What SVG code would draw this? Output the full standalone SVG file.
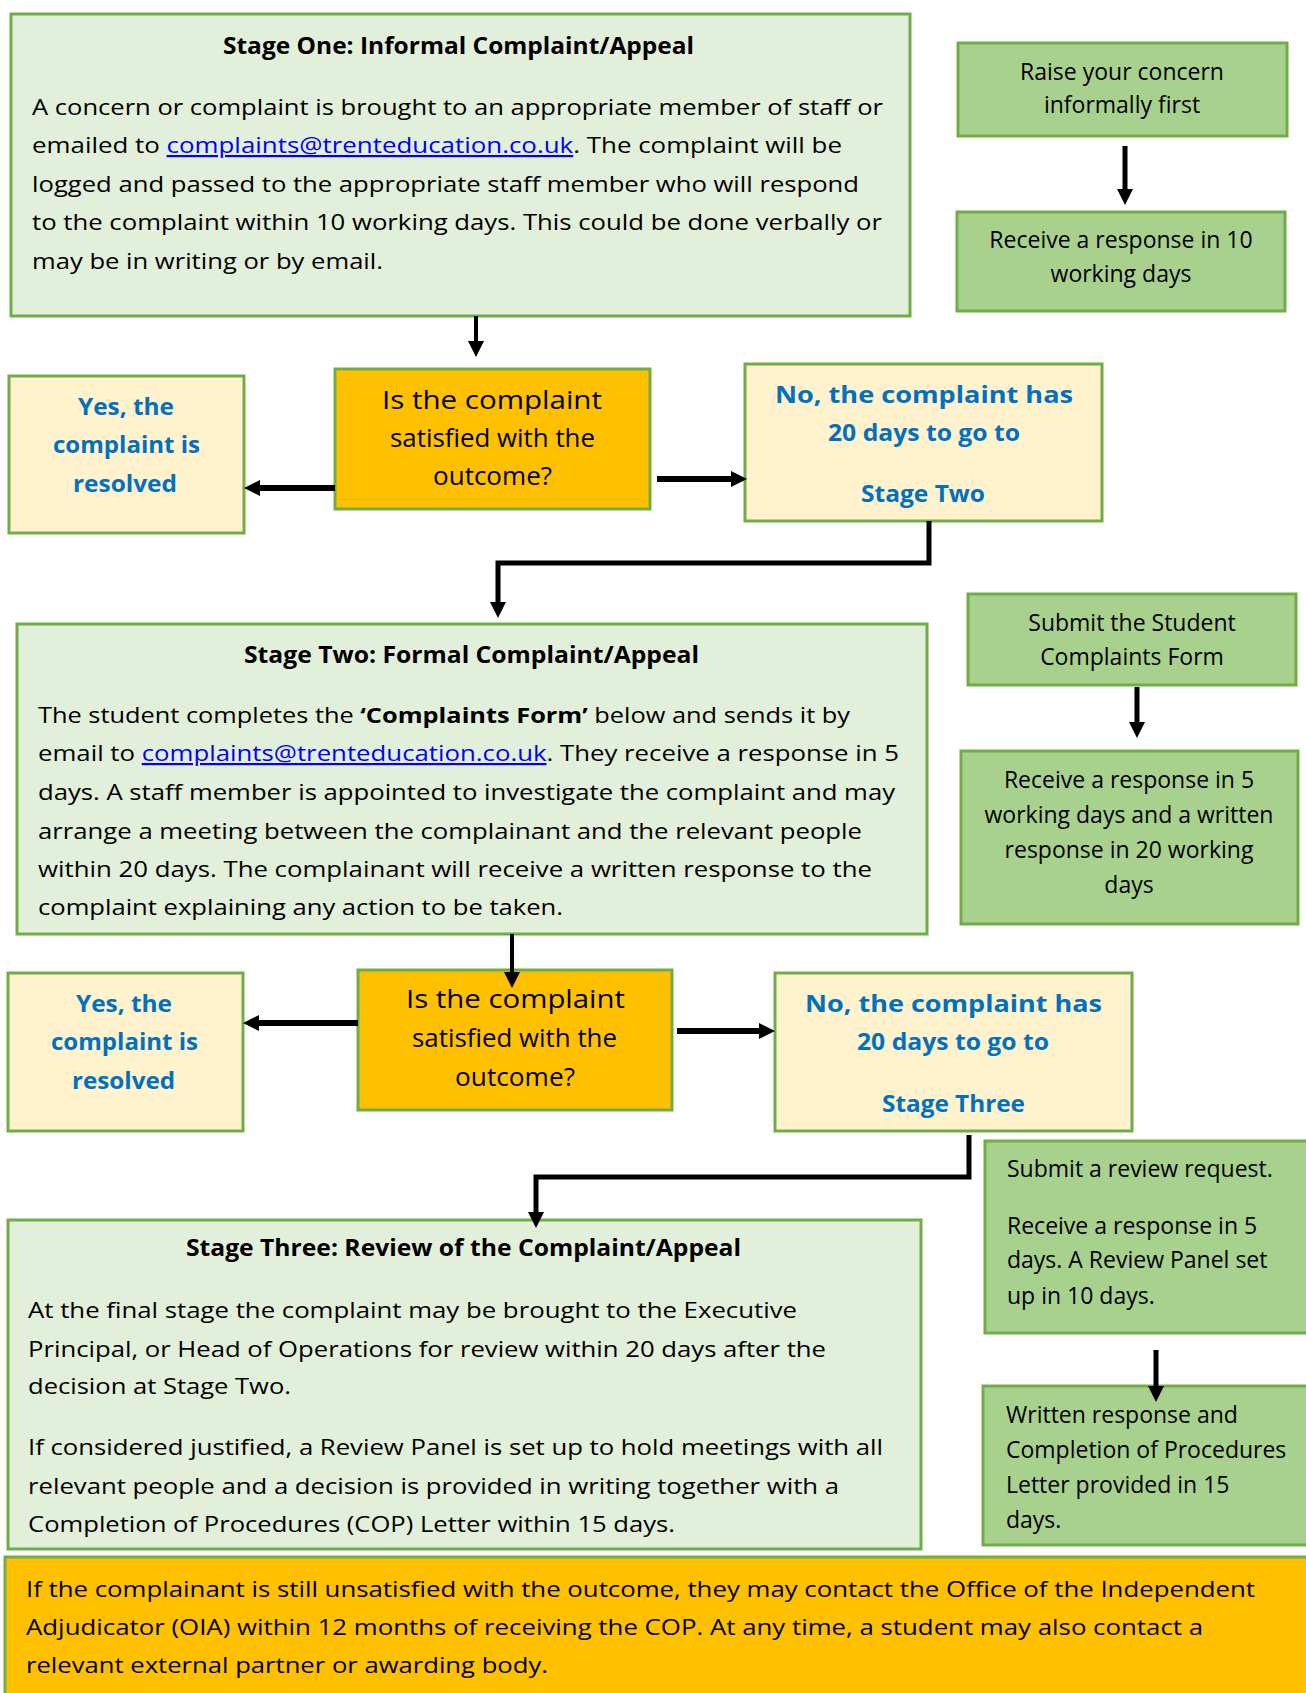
<svg xmlns="http://www.w3.org/2000/svg" width="1306" height="1693" viewBox="0 0 1306 1693">
<style>
text{font-family:"Open Sans","Liberation Sans",sans-serif;fill:#000}
.stage{fill:#E2EFDA;stroke:#70AD47;stroke-width:3}
.green{fill:#A9D18E;stroke:#70AD47;stroke-width:3}
.ask{fill:#FFC000;stroke:#70AD47;stroke-width:3}
.ans{fill:#FFF2CC;stroke:#70AD47;stroke-width:3}
.title{font-size:23px;font-weight:bold}
.body{font-size:22px}
.side{font-size:23px}
.q{font-size:25px}
.a{font-size:24px;font-weight:bold;fill:#0070C0}
.link{fill:#0000FF;text-decoration:underline}
.c{fill:none;stroke:#000;stroke-linejoin:miter}
</style>
<defs>
<marker id="ah" viewBox="0 0 16 16" refX="5" refY="8" markerWidth="16" markerHeight="16" markerUnits="userSpaceOnUse" orient="auto">
<path d="M0,0 L16,8 L0,16 z" fill="#000"/>
</marker>
</defs>

<g id="stage1">
<rect class="stage" x="11" y="14" width="899" height="302"/>
<text class="title" x="223" y="54" textLength="471" lengthAdjust="spacingAndGlyphs">Stage One: Informal Complaint/Appeal</text>
<text class="body" x="32" y="115" textLength="851" lengthAdjust="spacingAndGlyphs">A concern or complaint is brought to an appropriate member of staff or</text>
<text class="body" x="32" y="153" textLength="810" lengthAdjust="spacingAndGlyphs">emailed to <tspan class="link">complaints@trenteducation.co.uk</tspan>. The complaint will be</text>
<text class="body" x="32" y="192" textLength="827" lengthAdjust="spacingAndGlyphs">logged and passed to the appropriate staff member who will respond</text>
<text class="body" x="32" y="230" textLength="850" lengthAdjust="spacingAndGlyphs">to the complaint within 10 working days. This could be done verbally or</text>
<text class="body" x="32" y="269" textLength="351" lengthAdjust="spacingAndGlyphs">may be in writing or by email.</text>
</g>

<g id="raise">
<rect class="green" x="958" y="43" width="329" height="93"/>
<text class="side" x="1122" y="80" text-anchor="middle">Raise your concern</text>
<text class="side" x="1122" y="113" text-anchor="middle">informally first</text>
</g>

<g id="resp10">
<rect class="green" x="957" y="212" width="328" height="99"/>
<text class="side" x="1121" y="248" text-anchor="middle">Receive a response in 10</text>
<text class="side" x="1121" y="282" text-anchor="middle">working days</text>
</g>

<g id="yes1">
<rect class="ans" x="9" y="376" width="235" height="157"/>
<text class="a" x="78" y="415" textLength="96" lengthAdjust="spacingAndGlyphs">Yes, the</text>
<text class="a" x="53" y="453" textLength="147" lengthAdjust="spacingAndGlyphs">complaint is</text>
<text class="a" x="73" y="492" textLength="104" lengthAdjust="spacingAndGlyphs">resolved</text>
</g>

<g id="q1">
<rect class="ask" x="335" y="369" width="315" height="140"/>
<text class="q" x="382" y="409" textLength="220" lengthAdjust="spacingAndGlyphs">Is the complaint</text>
<text class="q" x="390" y="447" textLength="205" lengthAdjust="spacingAndGlyphs">satisfied with the</text>
<text class="q" x="433" y="485" textLength="119" lengthAdjust="spacingAndGlyphs">outcome?</text>
</g>

<g id="no1">
<rect class="ans" x="745" y="364" width="357" height="157"/>
<text class="a" x="775" y="403" textLength="298" lengthAdjust="spacingAndGlyphs">No, the complaint has</text>
<text class="a" x="828" y="441" textLength="192" lengthAdjust="spacingAndGlyphs">20 days to go to</text>
<text class="a" x="861" y="502" textLength="124" lengthAdjust="spacingAndGlyphs">Stage Two</text>
</g>

<g id="stage2">
<rect class="stage" x="17" y="624" width="910" height="310"/>
<text class="title" x="244" y="663" textLength="455" lengthAdjust="spacingAndGlyphs">Stage Two: Formal Complaint/Appeal</text>
<text class="body" x="38" y="723" textLength="812" lengthAdjust="spacingAndGlyphs">The student completes the <tspan font-weight="bold">‘Complaints Form’</tspan> below and sends it by</text>
<text class="body" x="38" y="761" textLength="861" lengthAdjust="spacingAndGlyphs">email to <tspan class="link">complaints@trenteducation.co.uk</tspan>. They receive a response in 5</text>
<text class="body" x="38" y="800" textLength="857" lengthAdjust="spacingAndGlyphs">days. A staff member is appointed to investigate the complaint and may</text>
<text class="body" x="38" y="839" textLength="824" lengthAdjust="spacingAndGlyphs">arrange a meeting between the complainant and the relevant people</text>
<text class="body" x="38" y="877" textLength="834" lengthAdjust="spacingAndGlyphs">within 20 days. The complainant will receive a written response to the</text>
<text class="body" x="38" y="915" textLength="525" lengthAdjust="spacingAndGlyphs">complaint explaining any action to be taken.</text>
</g>

<g id="submitform">
<rect class="green" x="968" y="594" width="328" height="91"/>
<text class="side" x="1132" y="631" text-anchor="middle">Submit the Student</text>
<text class="side" x="1132" y="665" text-anchor="middle">Complaints Form</text>
</g>

<g id="resp5">
<rect class="green" x="961" y="751" width="337" height="173"/>
<text class="side" x="1129" y="788" text-anchor="middle">Receive a response in 5</text>
<text class="side" x="1129" y="823" text-anchor="middle">working days and a written</text>
<text class="side" x="1129" y="858" text-anchor="middle">response in 20 working</text>
<text class="side" x="1129" y="893" text-anchor="middle">days</text>
</g>

<g id="yes2">
<rect class="ans" x="8" y="973" width="235" height="158"/>
<text class="a" x="76" y="1012" textLength="96" lengthAdjust="spacingAndGlyphs">Yes, the</text>
<text class="a" x="51" y="1050" textLength="147" lengthAdjust="spacingAndGlyphs">complaint is</text>
<text class="a" x="72" y="1089" textLength="103" lengthAdjust="spacingAndGlyphs">resolved</text>
</g>

<g id="q2">
<rect class="ask" x="358" y="970" width="314" height="140"/>
<text class="q" x="406" y="1008" textLength="219" lengthAdjust="spacingAndGlyphs">Is the complaint</text>
<text class="q" x="412" y="1047" textLength="205" lengthAdjust="spacingAndGlyphs">satisfied with the</text>
<text class="q" x="455" y="1086" textLength="120" lengthAdjust="spacingAndGlyphs">outcome?</text>
</g>

<g id="no2">
<rect class="ans" x="775" y="973" width="357" height="158"/>
<text class="a" x="805" y="1012" textLength="297" lengthAdjust="spacingAndGlyphs">No, the complaint has</text>
<text class="a" x="857" y="1050" textLength="192" lengthAdjust="spacingAndGlyphs">20 days to go to</text>
<text class="a" x="882" y="1112" textLength="143" lengthAdjust="spacingAndGlyphs">Stage Three</text>
</g>

<g id="stage3">
<rect class="stage" x="8" y="1220" width="913" height="329"/>
<text class="title" x="186" y="1256" textLength="555" lengthAdjust="spacingAndGlyphs">Stage Three: Review of the Complaint/Appeal</text>
<text class="body" x="28" y="1318" textLength="769" lengthAdjust="spacingAndGlyphs">At the final stage the complaint may be brought to the Executive</text>
<text class="body" x="28" y="1357" textLength="798" lengthAdjust="spacingAndGlyphs">Principal, or Head of Operations for review within 20 days after the</text>
<text class="body" x="28" y="1394" textLength="263" lengthAdjust="spacingAndGlyphs">decision at Stage Two.</text>
<text class="body" x="28" y="1455" textLength="855" lengthAdjust="spacingAndGlyphs">If considered justified, a Review Panel is set up to hold meetings with all</text>
<text class="body" x="28" y="1494" textLength="811" lengthAdjust="spacingAndGlyphs">relevant people and a decision is provided in writing together with a</text>
<text class="body" x="28" y="1532" textLength="647" lengthAdjust="spacingAndGlyphs">Completion of Procedures (COP) Letter within 15 days.</text>
</g>

<g id="review">
<rect class="green" x="985" y="1141" width="330" height="192"/>
<text class="side" x="1007" y="1177">Submit a review request.</text>
<text class="side" x="1007" y="1234">Receive a response in 5</text>
<text class="side" x="1007" y="1268">days. A Review Panel set</text>
<text class="side" x="1007" y="1304">up in 10 days.</text>
</g>

<g id="written">
<rect class="green" x="983" y="1386" width="332" height="159"/>
<text class="side" x="1006" y="1423">Written response and</text>
<text class="side" x="1006" y="1458">Completion of Procedures</text>
<text class="side" x="1006" y="1493">Letter provided in 15</text>
<text class="side" x="1006" y="1528">days.</text>
</g>

<g id="oia">
<rect class="ask" x="5" y="1557" width="1310" height="145"/>
<text class="body" x="26" y="1597" textLength="1229" lengthAdjust="spacingAndGlyphs">If the complainant is still unsatisfied with the outcome, they may contact the Office of the Independent</text>
<text class="body" x="26" y="1635" textLength="1177" lengthAdjust="spacingAndGlyphs">Adjudicator (OIA) within 12 months of receiving the COP. At any time, a student may also contact a</text>
<text class="body" x="26" y="1673" textLength="522" lengthAdjust="spacingAndGlyphs">relevant external partner or awarding body.</text>
</g>

<g id="connectors">
<path class="c" stroke-width="5" d="M1125,146 V194" marker-end="url(#ah)"/>
<path class="c" stroke-width="4" d="M476,316 V346" marker-end="url(#ah)"/>
<path class="c" stroke-width="6" d="M335,488 H255" marker-end="url(#ah)"/>
<path class="c" stroke-width="6" d="M657,479 H736" marker-end="url(#ah)"/>
<path class="c" stroke-width="5" d="M929,521 V563 H498 V607" marker-end="url(#ah)"/>
<path class="c" stroke-width="5" d="M1137,687 V727" marker-end="url(#ah)"/>
<path class="c" stroke-width="4" d="M512,934 V977" marker-end="url(#ah)"/>
<path class="c" stroke-width="6" d="M358,1023 H254" marker-end="url(#ah)"/>
<path class="c" stroke-width="6" d="M677,1031 H764" marker-end="url(#ah)"/>
<path class="c" stroke-width="5" d="M969,1135 V1177 H536 V1217" marker-end="url(#ah)"/>
<path class="c" stroke-width="5" d="M1156,1350 V1391" marker-end="url(#ah)"/>
</g>
</svg>
